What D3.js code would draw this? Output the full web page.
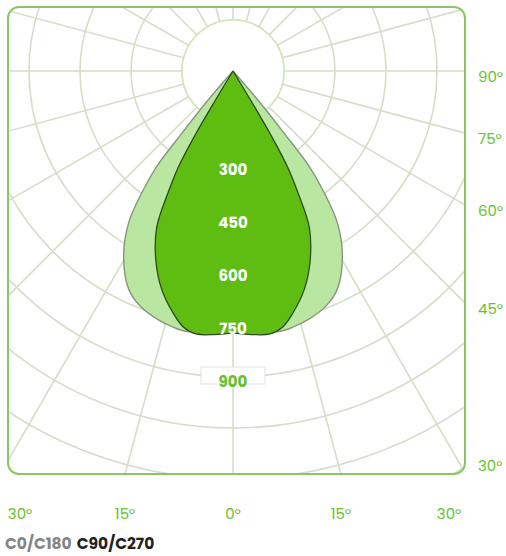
<!DOCTYPE html>
<html>
<head>
<meta charset="utf-8">
<script src="https://cdn.jsdelivr.net/npm/d3@7"></script>
<style>
  body { margin: 0; background: #fff; }
  #polar-chart { width: 506px; height: 556px; }
</style>
</head>
<body>
<div id="polar-chart"></div>
<script>
// intensity (cd/klm) against gamma angle, one half of each symmetric plane
const c0Angles = [0, 5, 10, 13, 17, 21.5, 25.5, 30.5, 34.5, 37, 38.6, 39.4, 40.6, 42];
const c0Values = [755, 768, 778, 774, 763, 744, 712, 634, 542, 440, 360, 240, 118, 0];
const c90Angles = [0, 4, 8, 11, 14, 18, 22, 26, 28, 29.6, 30.6, 31.1, 32];
const c90Values = [771, 777, 781, 767, 732, 677, 605, 512, 410, 327, 218, 104, 0];

const ringValues = [150, 300, 450, 600, 750, 900, 1050, 1200, 1350, 1500];
const ringLabels = [300, 450, 600, 750, 900];
const sideTicks = [90, 75, 60, 45, 30];
const bottomTicks = [-30, -15, 0, 15, 30];

const makePlot = () => {
  const container = d3.select('#polar-chart');
  container.selectAll('*').remove();

  const size = { width: 506, height: 556 };
  const frame = { x: 8, y: 7, width: 457, height: 467, radius: 11 };
  const center = { x: 233, y: 71 };

  const green = '#66c12c';
  const gridColor = '#d6ddc9';
  const font = "Poppins, 'Open Sans', sans-serif";

  const svg = container
    .append('svg')
    .attr('width', size.width)
    .attr('height', size.height);

  const r = d3.scaleLinear().domain([0, 150]).range([0, 51]);
  const rad = (deg) => (deg * Math.PI) / 180;

  svg
    .append('clipPath')
    .attr('id', 'frame-clip')
    .append('rect')
    .attr('x', frame.x)
    .attr('y', frame.y)
    .attr('width', frame.width)
    .attr('height', frame.height)
    .attr('rx', frame.radius);

  const plot = svg
    .append('g')
    .attr('clip-path', 'url(#frame-clip)')
    .append('g')
    .attr('transform', `translate(${center.x}, ${center.y})`);

  // rings
  plot
    .selectAll('circle.ring')
    .data(ringValues)
    .join('circle')
    .attr('class', 'ring')
    .attr('r', (d) => r(d))
    .attr('fill', 'none')
    .attr('stroke', gridColor)
    .attr('stroke-width', 1.6);

  // spokes every 15 degrees
  plot
    .selectAll('line.spoke')
    .data(d3.range(0, 360, 15))
    .join('line')
    .attr('class', 'spoke')
    .attr('x1', 0)
    .attr('y1', 0)
    .attr('x2', (d) => 700 * Math.sin(rad(d)))
    .attr('y2', (d) => 700 * Math.cos(rad(d)))
    .attr('stroke', gridColor)
    .attr('stroke-width', 1.6);

  // white centre disc
  plot
    .append('circle')
    .attr('r', r(150))
    .attr('fill', '#fff')
    .attr('stroke', '#cfe6b6')
    .attr('stroke-width', 1.5);

  const line = d3
    .lineRadial()
    .angle((d) => Math.PI - rad(d.a))
    .radius((d) => r(d.v))
    .curve(d3.curveCatmullRom.alpha(0.5));

  const mirror = (angles, values) => {
    const half = angles.map((a, i) => ({ a, v: values[i] }));
    const left = half.slice(1).reverse().map((d) => ({ a: -d.a, v: d.v }));
    return [...left, ...half];
  };

  plot
    .append('path')
    .attr('d', line(mirror(c0Angles, c0Values)))
    .attr('fill', '#b9e6a0')
    .attr('stroke', '#86957c')
    .attr('stroke-width', 1.4);

  plot
    .append('path')
    .attr('d', line(mirror(c90Angles, c90Values)))
    .attr('fill', '#5fbd12')
    .attr('stroke', '#2c4a1c')
    .attr('stroke-width', 1.3);

  // intensity labels
  const last = ringLabels[ringLabels.length - 1];
  plot
    .append('rect')
    .attr('x', -32)
    .attr('y', r(last) - 10)
    .attr('width', 64)
    .attr('height', 17)
    .attr('fill', '#fff')
    .attr('stroke', '#e2e4df')
    .attr('stroke-width', 1);

  plot
    .selectAll('text.ring-label')
    .data(ringLabels)
    .join('text')
    .attr('class', 'ring-label')
    .attr('x', 0)
    .attr('y', (d) => r(d) + (d - 525) / 75)
    .attr('dy', '0.35em')
    .attr('text-anchor', 'middle')
    .attr('font-family', font)
    .attr('font-weight', 700)
    .attr('font-size', '15px')
    .attr('fill', (d) => (d === last ? green : '#fff'))
    .text((d) => d);

  // frame
  svg
    .append('rect')
    .attr('x', frame.x)
    .attr('y', frame.y)
    .attr('width', frame.width)
    .attr('height', frame.height)
    .attr('rx', frame.radius)
    .attr('fill', 'none')
    .attr('stroke', '#8cc46a')
    .attr('stroke-width', 2);

  const right = frame.x + frame.width;
  const bottom = frame.y + frame.height;

  svg
    .selectAll('text.side-tick')
    .data(sideTicks)
    .join('text')
    .attr('class', 'side-tick')
    .attr('x', 478)
    .attr('y', (d) =>
      Math.min(center.y + (right - center.x) * Math.tan(rad(90 - d)) + 6, bottom - 8),
    )
    .attr('dy', '0.35em')
    .attr('font-family', font)
    .attr('font-size', '15px')
    .attr('fill', green)
    .text((d) => `${d}°`);

  svg
    .selectAll('text.bottom-tick')
    .data(bottomTicks)
    .join('text')
    .attr('class', 'bottom-tick')
    .attr('x', (d) =>
      Math.max(20, Math.min(449, center.x + (bottom - center.y) * Math.tan(rad(d)))),
    )
    .attr('y', 514)
    .attr('dy', '0.35em')
    .attr('text-anchor', 'middle')
    .attr('font-family', font)
    .attr('font-size', '15px')
    .attr('fill', green)
    .text((d) => `${Math.abs(d)}°`);

  const legend = svg
    .append('text')
    .attr('x', 5)
    .attr('y', 544)
    .attr('dy', '0.35em')
    .attr('font-family', font)
    .attr('font-weight', 700)
    .attr('font-size', '15.5px');
  legend.append('tspan').attr('fill', '#858585').text('C0/C180');
  legend.append('tspan').attr('fill', '#222').attr('dx', 5).text('C90/C270');
};

makePlot();
</script>
</body>
</html>
